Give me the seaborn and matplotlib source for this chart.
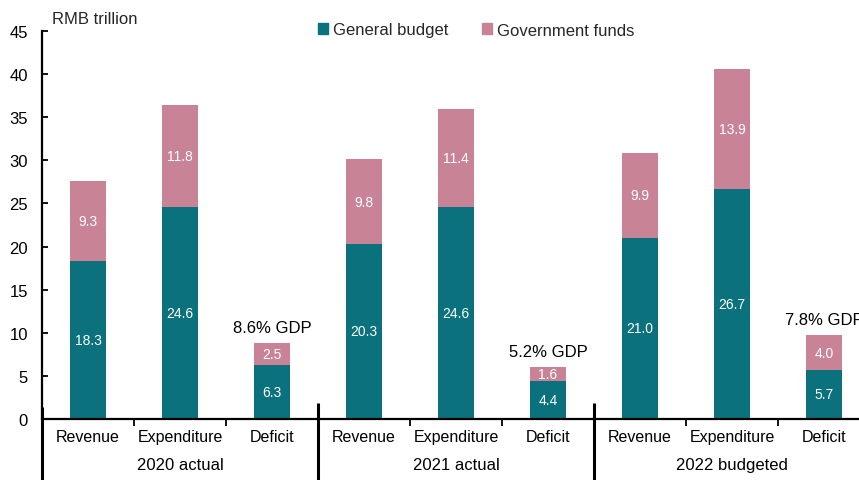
import matplotlib
matplotlib.use("Agg")
import numpy as np
import pandas as pd
import matplotlib.pyplot as plt
import matplotlib.patches as mpatches
import matplotlib.transforms as mtrans
import seaborn as sns

# ---- data ----
groups = ["2020 actual", "2021 actual", "2022 budgeted"]
items = ["Revenue", "Expenditure", "Deficit"]
general_budget = [18.3, 24.6, 6.3, 20.3, 24.6, 4.4, 21.0, 26.7, 5.7]
government_funds = [9.3, 11.8, 2.5, 9.8, 11.4, 1.6, 9.9, 13.9, 4.0]
deficit_gdp = ["8.6% GDP", "5.2% GDP", "7.8% GDP"]

TEAL = "#0a717d"
PINK = "#c88496"

keys = [f"{g}|{i}" for g in groups for i in items]
df = pd.DataFrame({
    "key": keys,
    "general": general_budget,
    "funds": government_funds,
})
df["total"] = df["general"] + df["funds"]

sns.set_theme(style="white")
plt.rcParams["font.family"] = ["Liberation Sans", "DejaVu Sans"]

fig = plt.figure(figsize=(8.59, 4.81), dpi=100)
W, H = 859, 481
ax = fig.add_axes([42 / W, 61 / H, 828 / W, 388 / H])

sns.barplot(data=df, x="key", y="total", order=keys, color=PINK,
            width=0.4, saturation=1, linewidth=0, ax=ax)
sns.barplot(data=df, x="key", y="general", order=keys, color=TEAL,
            width=0.4, saturation=1, linewidth=0, ax=ax)

ax.set_xlim(-0.5, 8.5)
ax.set_ylim(0, 45)
ax.set_yticks(np.arange(0, 46, 5))
ax.set_xlabel("")
ax.set_ylabel("")

for s in ["top", "right"]:
    ax.spines[s].set_visible(False)
ax.spines["left"].set_color("black")
ax.spines["left"].set_linewidth(1.6)
ax.spines["bottom"].set_color("black")
ax.spines["bottom"].set_linewidth(1.6)

ax.tick_params(axis="y", direction="in", length=4, width=1.3, colors="black",
               labelsize=12, pad=10, left=True)
ax.set_xticks(range(9))
ax.set_xticklabels([])
ax.tick_params(axis="x", which="major", length=0)
ax.set_xticks([0.5, 1.5, 3.5, 4.5, 6.5, 7.5], minor=True)
ax.tick_params(axis="x", which="minor", direction="out", length=5, width=1.3,
               colors="black", bottom=True)

# segment value labels
for i in range(9):
    g, f = general_budget[i], government_funds[i]
    ax.text(i, g / 2, f"{g:.1f}", ha="center", va="center", color="white", fontsize=10)
    ax.text(i, g + f / 2, f"{f:.1f}", ha="center", va="center", color="white", fontsize=10)

# deficit GDP labels
for k, lab in enumerate(deficit_gdp):
    i = 3 * k + 2
    ax.text(i, general_budget[i] + government_funds[i] + 1.0, lab,
            ha="center", va="bottom", color="black", fontsize=12)

# x category and group labels
trans = mtrans.blended_transform_factory(ax.transData, ax.transAxes)
for i in range(9):
    ax.text(i, -18 / 388, items[i % 3], transform=trans, ha="center",
            va="center", fontsize=11.5, color="black")
for k, g in enumerate(groups):
    ax.text(3 * k + 1, -46 / 388, g, transform=trans, ha="center",
            va="center", fontsize=12, color="black")

# group separators
for xs in [-0.5, 2.5, 5.5]:
    top = 0.03 if xs < 0 else 16 / 388
    ax.plot([xs, xs], [-62 / 388, top], transform=trans, color="black",
            lw=2.2, clip_on=False, solid_capstyle="butt")

fig.text(52 / W, 1 - 20 / H, "RMB trillion", ha="left", va="center", fontsize=12)

handles = [mpatches.Patch(color=TEAL, label="General budget"),
           mpatches.Patch(color=PINK, label="Government funds")]
fig.legend(handles=handles, loc="center", bbox_to_anchor=(476 / W, 1 - 31 / H),
           ncol=2, frameon=False, fontsize=12, handlelength=0.6, handleheight=0.6,
           handletextpad=0.3, columnspacing=2.0)

fig.savefig("out.png", dpi=100)
